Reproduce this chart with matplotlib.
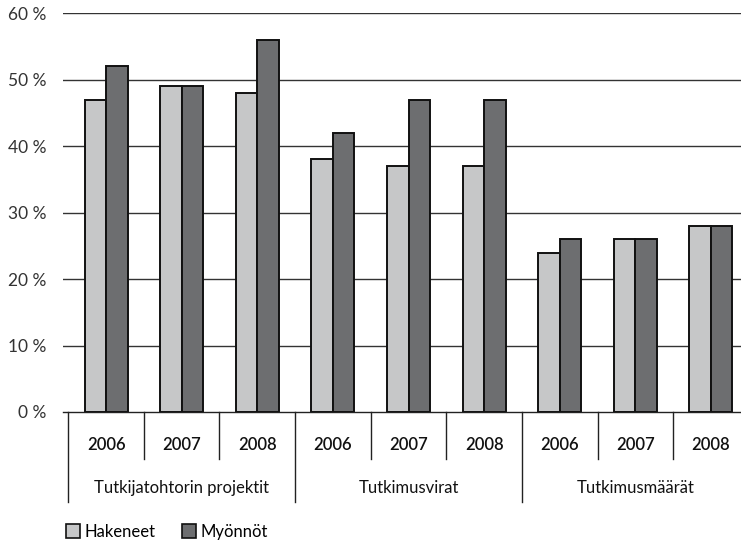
import numpy as np
import matplotlib
matplotlib.use("Agg")
import matplotlib.pyplot as plt
from matplotlib.patches import Patch

plt.rcParams['font.family'] = ['Lato', 'DejaVu Sans']

# data
groups = ['Tutkijatohtorin projektit', 'Tutkimusvirat', 'Tutkimusmäärät']
years = ['2006', '2007', '2008']
hakeneet = [47, 49, 48, 38, 37, 37, 24, 26, 28]
myonnot = [52, 49, 56, 42, 47, 47, 26, 26, 28]
y_ticks = [0, 10, 20, 30, 40, 50, 60]
y_labels = ['%d %%' % v for v in y_ticks]

light = '#c6c7c8'
dark = '#6d6e70'

fig = plt.figure(figsize=(7.41, 5.43), dpi=100)
ax = fig.add_axes([62.7 / 741, 131 / 543, 678.3 / 741, 398.7 / 543])

x = np.arange(len(hakeneet))
w = 0.285
ax.bar(x - w / 2, hakeneet, w, color=light, edgecolor='#111111', linewidth=1.4, zorder=3)
ax.bar(x + w / 2, myonnot, w, color=dark, edgecolor='#111111', linewidth=1.4, zorder=3)

ax.set_xlim(-0.574, 8.398)
ax.set_ylim(0, 60)
ax.set_yticks(y_ticks)
ax.set_yticklabels(y_labels, fontsize=12.5, color='#333333')
ax.tick_params(axis='y', length=0, pad=12)
ax.set_xticks([])
for v in y_ticks[1:]:
    ax.axhline(v, color='#333333', linewidth=1.0, zorder=1)
for s in ['top', 'right', 'left']:
    ax.spines[s].set_visible(False)
ax.spines['bottom'].set_color('#222222')
ax.spines['bottom'].set_linewidth(1.0)

# category axis below: years and groups
for i in range(len(hakeneet)):
    ax.text(i, -5.0, years[i % 3], ha='center', va='center', fontsize=12,
            fontweight='semibold', color='#111111')
for k in range(len(hakeneet) + 1):
    b = k - 0.5
    bottom = -13.6 if k % 3 == 0 else -7.0
    if b > 8.398:
        continue
    ax.plot([b, b], [0, bottom], color='#222222', linewidth=1.0, clip_on=False)
for g, name in enumerate(groups):
    ax.text(g * 3 + 1, -11.5, name, ha='center', va='center', fontsize=12,
            color='#111111')

handles = [Patch(facecolor=light, edgecolor='#111111', linewidth=1.2, label='Hakeneet'),
           Patch(facecolor=dark, edgecolor='#111111', linewidth=1.2, label='Myönnöt')]
fig.legend(handles=handles, loc='center left', bbox_to_anchor=(66 / 741, 1 - 532 / 543),
           ncol=2, frameon=False, fontsize=12, handlelength=0.85, handleheight=0.9,
           handletextpad=0.25, columnspacing=1.6, borderaxespad=0, borderpad=0)

fig.savefig('out.png', dpi=100)
